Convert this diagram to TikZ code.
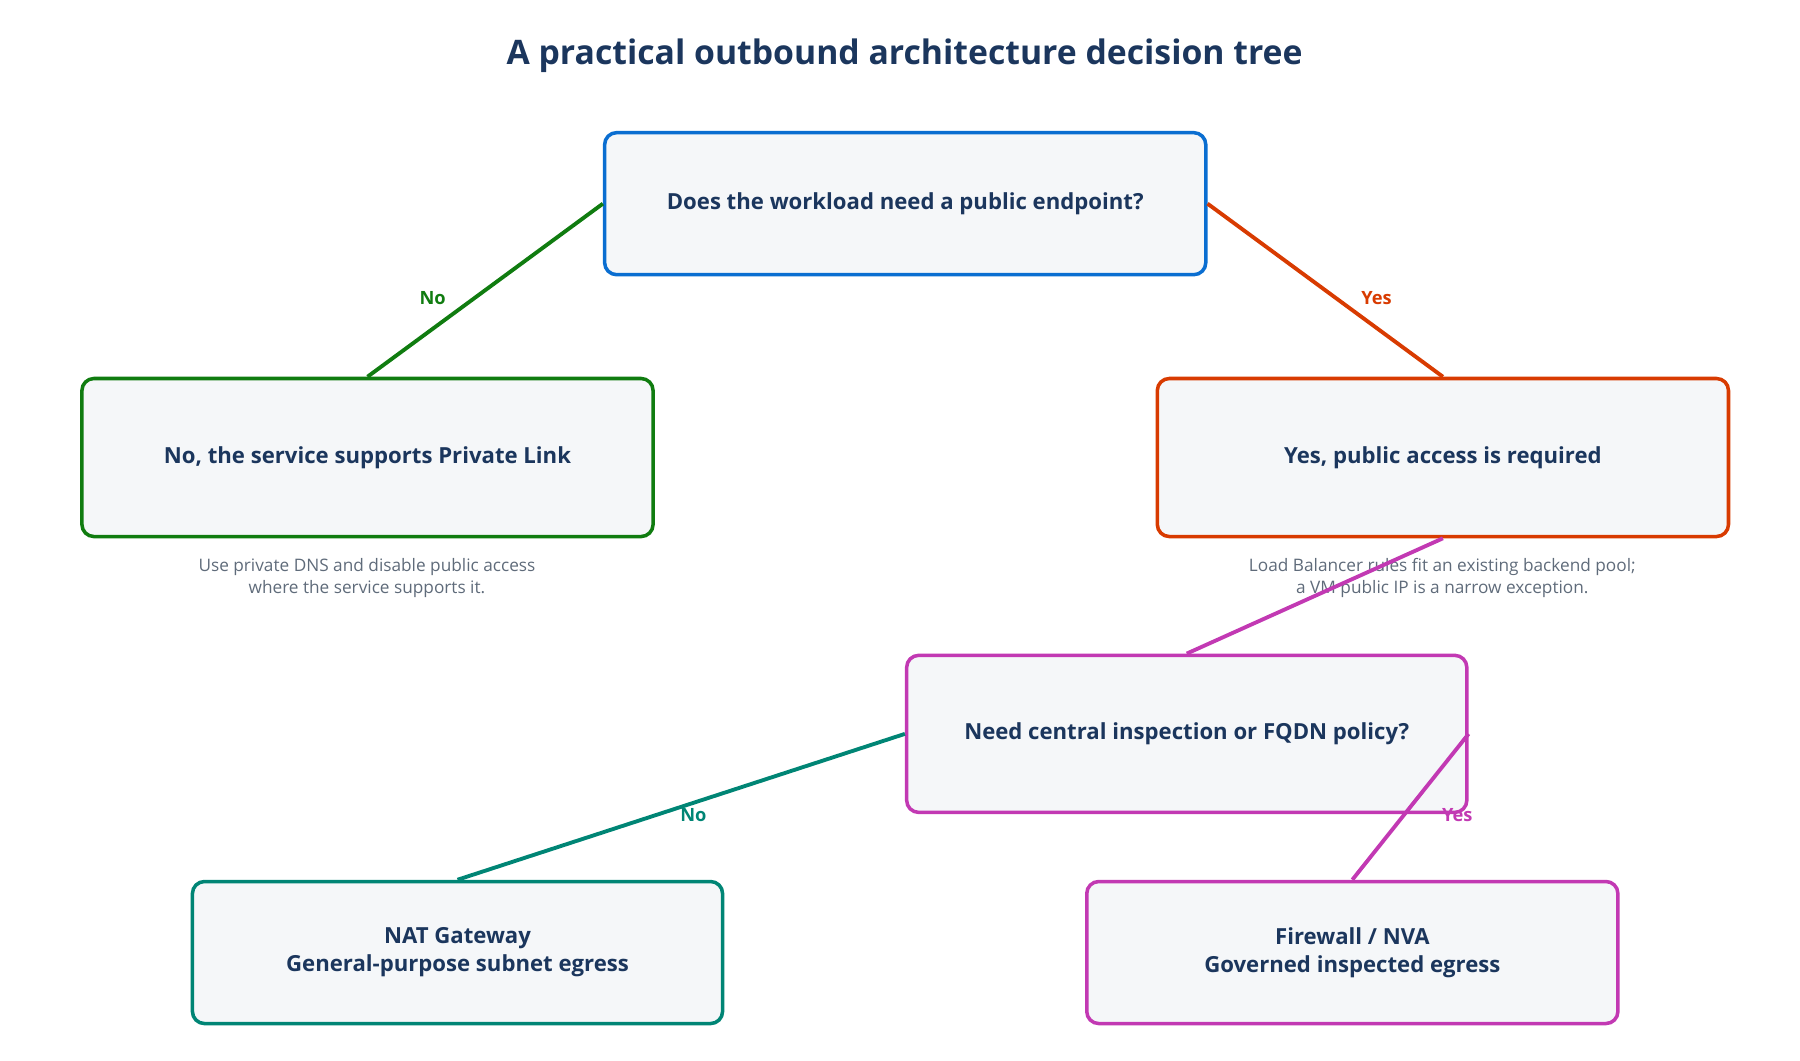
\documentclass[tikz,border=0pt]{standalone}
\usepackage{fontspec}
\setmainfont{Open Sans}
\definecolor{ink}{HTML}{1B365D}
\definecolor{note}{HTML}{5F6B7A}
\definecolor{boxfill}{HTML}{F5F7F9}
\definecolor{qblue}{HTML}{0A6ED1}
\definecolor{nogreen}{HTML}{107C10}
\definecolor{yesred}{HTML}{D83B01}
\definecolor{pink}{HTML}{C239B3}
\definecolor{teal}{HTML}{008575}
\tikzset{
  box/.style={draw, line width=1pt, rounded corners=0.12cm, fill=boxfill,
    text=ink, font=\fontsize{6.3}{8}\selectfont\bfseries, align=center},
  link/.style={line width=1.1pt},
  tag/.style={font=\fontsize{5.2}{6}\selectfont\bfseries},
  remark/.style={text=note, font=\fontsize{4.9}{6.2}\selectfont, align=center}
}
\begin{document}
\begin{tikzpicture}[x=0.011538cm, y=-0.011538cm]
  \useasboundingbox (0,0) rectangle (1560,918.7);
  \node[text=ink, font=\fontsize{9.6}{11}\selectfont\bfseries] (title) at (784,48)
    {A practical outbound architecture decision tree};

  \node[box, draw=qblue, minimum width=6.01cm, minimum height=1.42cm] (ask) at (784.5,176.5)
    {Does the workload need a public endpoint?};
  \node[box, draw=nogreen, minimum width=5.71cm, minimum height=1.58cm] (plink) at (318.5,396.5)
    {No, the service supports Private Link};
  \node[box, draw=yesred, minimum width=5.71cm, minimum height=1.58cm] (pub) at (1250.5,396.5)
    {Yes, public access is required};
  \node[box, draw=pink, minimum width=5.60cm, minimum height=1.57cm] (insp) at (1028.5,636)
    {Need central inspection or FQDN policy?};
  \node[box, draw=teal, minimum width=5.30cm, minimum height=1.42cm] (nat) at (396.5,825.5)
    {NAT Gateway\\General-purpose subnet egress};
  \node[box, draw=pink, minimum width=5.31cm, minimum height=1.42cm] (fw) at (1172,825.5)
    {Firewall / NVA\\Governed inspected egress};

  \node[remark] (plinknote) at (318,501)
    {Use private DNS and disable public access\\where the service supports it.};
  \node[remark] (pubnote) at (1250,501)
    {Load Balancer rules fit an existing backend pool;\\a VM public IP is a narrow exception.};

  \draw[link, nogreen] (ask.west) -- (plink.north);
  \draw[link, yesred] (ask.east) -- (pub.north);
  \draw[link, pink] (pub.south) -- (insp.north);
  \draw[link, teal] (insp.west) -- (nat.north);
  \draw[link, pink] (insp.east) -- (fw.north);

  \node[tag, text=nogreen] (no1) at (375,258) {No};
  \node[tag, text=yesred] (yes1) at (1193,258) {Yes};
  \node[tag, text=teal] (no2) at (601,706) {No};
  \node[tag, text=pink] (yes2) at (1263,706) {Yes};
\end{tikzpicture}
\end{document}
